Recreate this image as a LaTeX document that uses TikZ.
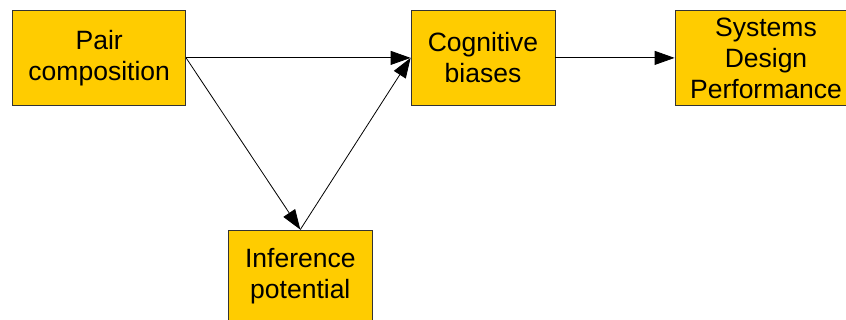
\documentclass[tikz,border=0pt]{standalone}
\usepackage{fontspec}
\setmainfont{Liberation Sans}
\usetikzlibrary{arrows.meta}
\definecolor{boxfill}{HTML}{FFCC00}
\definecolor{boxline}{HTML}{333333}
\begin{document}
\begin{tikzpicture}[x=1pt,y=-1pt,
  box/.style={draw=boxline, line width=0.8pt, fill=boxfill, align=center, inner sep=0pt,
    font=\fontsize{26.5}{31}\selectfont, minimum height=95.7pt},
  conn/.style={line width=0.8pt, -{Triangle[length=20pt,width=14pt]}}]
\useasboundingbox (0,0) rectangle (846,320);
\begin{scope}
\clip (0,0) rectangle (846,320);
\node[box, minimum width=173pt] (pair) at (99.2,57.9) {Pair\\composition};
\node[box, minimum width=144pt] (cog) at (483,57.9) {Cognitive\\biases};
\node[box, minimum width=182pt] (sys) at (766,57.9) {Systems\\Design\\Performance};
\node[box, minimum width=144pt, minimum height=93pt] (inf) at (300.3,276.5) {Inference\\potential};
\draw[conn] (pair.east) -- (cog.west);
\draw[conn] (pair.east) -- (inf.north);
\draw[conn] (inf.north) -- (cog.west);
\draw[conn] (cog.east) -- (sys.west);
\end{scope}
\end{tikzpicture}
\end{document}
